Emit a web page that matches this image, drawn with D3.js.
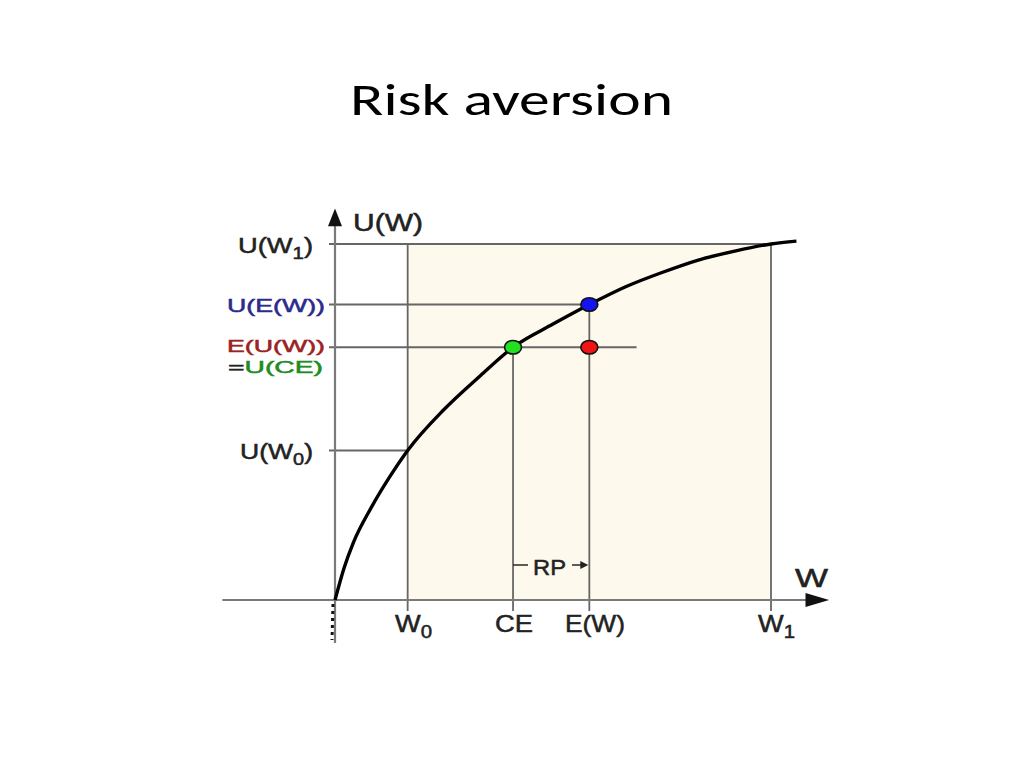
<!DOCTYPE html>
<html><head><meta charset="utf-8">
<script src="https://cdn.jsdelivr.net/npm/d3@7"></script>
<style>html,body{margin:0;padding:0;background:#fff;}svg{display:block;}</style>
</head><body>
<svg id="c" width="1024" height="768"></svg>
<script>
// Data
const title = "Risk aversion";
const curveW = [0, 0.25, 0.5, 1, 1.5, 2, 3, 4, 4.9, 6, 7, 8, 9, 10, 11, 12, 12.7];
const curveU = [0, 0.9, 1.6, 2.6, 3.45, 4.2, 5.35, 6.3, 7.1, 7.75, 8.3, 8.8, 9.2, 9.55, 9.8, 10.0, 10.08];
const W0 = 2, CE = 4.9, EW = 7, W1 = 12;
const UW0 = 4.2, EUW = 7.1, UEW = 8.3, UW1 = 10;
const xTickValues = [W0, CE, EW, W1];
const xTickLabels = [["W","0"], ["CE",""], ["E(W)",""], ["W","1"]];
const pointW = [EW, CE, EW];
const pointU = [UEW, EUW, EUW];
const pointColors = ["#1414f0", "#22e022", "#f01414"];

const svg = d3.select("#c");
const x = d3.scaleLinear().domain([0, 12]).range([335, 771]);
const y = d3.scaleLinear().domain([0, 10]).range([600, 244]);
const font = "'Liberation Sans', Arial, sans-serif";
const grid = "#666", axisC = "#7a7a7a", ink = "#222";

// title
svg.append("text").attr("x", 350).attr("y", 115)
  .attr("font-family", "Carlito, Lato, 'Open Sans', sans-serif").attr("font-size", 45).attr("fill", "#000")
  .attr("textLength", 323).attr("lengthAdjust", "spacingAndGlyphs").text(title);

// beige region
svg.append("rect").attr("x", x(W0)).attr("y", y(UW1)).attr("width", x(W1) - x(W0)).attr("height", y(0) - y(UW1))
  .attr("fill", "#fdf9ec");

// horizontal guide lines
const hl = (u, w2) => svg.append("line").attr("x1", x(0) - 6).attr("x2", x(w2)).attr("y1", y(u)).attr("y2", y(u))
  .attr("stroke", grid).attr("stroke-width", 1.8);
hl(UW1, W1); hl(UEW, EW); hl(EUW, 8.3); hl(UW0, W0);
// vertical guide lines
const vl = (w, u) => svg.append("line").attr("x1", x(w)).attr("x2", x(w)).attr("y1", y(0) + 11).attr("y2", y(u))
  .attr("stroke", grid).attr("stroke-width", 1.8);
vl(W0, UW1); vl(CE, EUW); vl(EW, UEW); vl(W1, UW1);

// axes
svg.append("line").attr("x1", x(0)).attr("x2", x(0)).attr("y1", y(0) + 43).attr("y2", y(10.7))
  .attr("stroke", axisC).attr("stroke-width", 2.2);
svg.append("line").attr("x1", x(-3.1)).attr("x2", x(13.2)).attr("y1", y(0)).attr("y2", y(0))
  .attr("stroke", axisC).attr("stroke-width", 2.2);
// arrowheads
svg.append("path").attr("d", `M${x(0)-7},${y(10.5)} L${x(0)},${y(11.0)} L${x(0)+7},${y(10.5)} Z`).attr("fill", "#111");
svg.append("path").attr("d", `M${x(12.95)},${y(0)-7} L${x(13.6)},${y(0)} L${x(12.95)},${y(0)+7} Z`).attr("fill", "#111");

// dotted extension below origin
svg.append("line").attr("x1", x(0) - 2).attr("x2", x(0) - 3).attr("y1", y(0) + 4).attr("y2", y(0) + 40)
  .attr("stroke", "#111").attr("stroke-width", 3).attr("stroke-dasharray", "3,4");

// curve
const line = d3.line().x((d, i) => x(curveW[i])).y((d, i) => y(curveU[i])).curve(d3.curveMonotoneX);
svg.append("path").datum(curveW).attr("d", line).attr("fill", "none").attr("stroke", "#000").attr("stroke-width", 3.4);

// points
svg.selectAll("ellipse.pt").data(pointW).enter().append("ellipse")
  .attr("cx", (d) => x(d)).attr("cy", (d, i) => y(pointU[i])).attr("rx", 8.5).attr("ry", 6.8)
  .attr("fill", (d, i) => pointColors[i]).attr("stroke", "#111").attr("stroke-width", 1.6);

// helper for stretched labels
const label = (xx, yy, size, len, parts) => {
  const t = svg.append("text").attr("x", xx).attr("y", yy).attr("font-family", font).attr("font-size", size)
    .attr("stroke-width", 0.5).attr("textLength", len).attr("lengthAdjust", "spacingAndGlyphs");
  parts.forEach(p => {
    const s = t.append("tspan").attr("fill", p.c || ink).attr("stroke", p.c || ink).text(p.t);
    if (p.sub) s.attr("font-size", size * 0.75).attr("dy", 6);
    if (p.up) s.attr("dy", -6);
  });
  return t;
};

// RP annotation
svg.append("line").attr("x1", x(CE)).attr("x2", x(CE) + 15).attr("y1", 565).attr("y2", 565).attr("stroke", "#333").attr("stroke-width", 1.6);
label(x(CE) + 20, 575, 22, 33, [{t: "RP"}]);
svg.append("line").attr("x1", x(CE) + 59).attr("x2", x(EW) - 4).attr("y1", 565).attr("y2", 565).attr("stroke", "#333").attr("stroke-width", 1.6);
svg.append("path").attr("d", `M${x(EW)-9},561 L${x(EW)-1},565 L${x(EW)-9},569 Z`).attr("fill", "#222");

// axis labels
label(353, 231, 23, 70, [{t: "U(W)"}]);
label(795, 587, 25, 33, [{t: "W"}]);

// x tick labels
const xStart = [395, 495, 565, 758], xLen = [37, 38, 60, 37];
xTickValues.forEach((v, i) => {
  const parts = [{t: xTickLabels[i][0]}];
  if (xTickLabels[i][1]) parts.push({t: xTickLabels[i][1], sub: true});
  label(xStart[i], 632, 24, xLen[i], parts);
});

// y tick labels
label(238, y(UW1) + 9, 22, 75, [{t: "U(W"}, {t: "1", sub: true}, {t: ")", up: true}]);
label(227, y(UEW) + 7, 18, 98, [{t: "U(E(W))", c: "#2b2b8c"}]);
label(227, y(EUW) + 5, 17, 98, [{t: "E(U(W))", c: "#9c2222"}]);
label(228, y(EUW) + 26, 17, 95, [{t: "="}, {t: "U(CE)", c: "#1e8c1e"}]);
label(240, y(UW0) + 9, 22, 73, [{t: "U(W"}, {t: "0", sub: true}, {t: ")", up: true}]);
</script>
</body></html>
